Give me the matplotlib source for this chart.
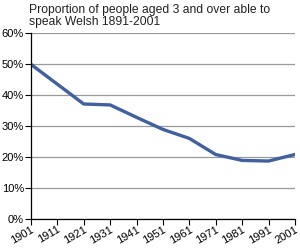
import matplotlib.pyplot as plt

plt.rcParams['font.family'] = ['Liberation Sans', 'DejaVu Sans']

years = [1901, 1911, 1921, 1931, 1941, 1951, 1961, 1971, 1981, 1991, 2001]
welsh = [49.9, 43.5, 37.1, 36.8, 32.8, 28.9, 26.0, 20.8, 18.9, 18.7, 20.8]

fig = plt.figure(figsize=(3, 2.5), dpi=100)
ax = fig.add_axes([0.103, 0.124, 0.88, 0.744])

ax.plot(years, welsh, color='#4060a0', lw=2.4, solid_joinstyle='round')

ax.set_xlim(1901, 2001)
ax.set_ylim(0, 60)
ax.set_xticks(years)
ax.set_xticklabels([str(y) for y in years], rotation=30, fontsize=8)
ax.set_yticks(range(0, 61, 10))
ax.set_yticklabels(['%d%%' % v for v in range(0, 61, 10)], fontsize=8)
ax.tick_params(length=4, width=0.8, pad=1, color='black')
ax.tick_params(axis='x', pad=0)
for lab in ax.get_xticklabels():
    lab.set_ha('right')
    lab.set_rotation_mode('anchor')

ax.grid(axis='y', color='#999999', lw=0.9)
ax.set_axisbelow(True)
for s in ['top', 'right']:
    ax.spines[s].set_visible(False)
for s in ['left', 'bottom']:
    ax.spines[s].set_linewidth(0.9)

fig.text(0.097, 0.985, 'Proportion of people aged 3 and over able to\nspeak Welsh 1891-2001',
         fontsize=8.7, va='top', ha='left', linespacing=1.05, color='#222222')

fig.savefig('out.png', dpi=100)
